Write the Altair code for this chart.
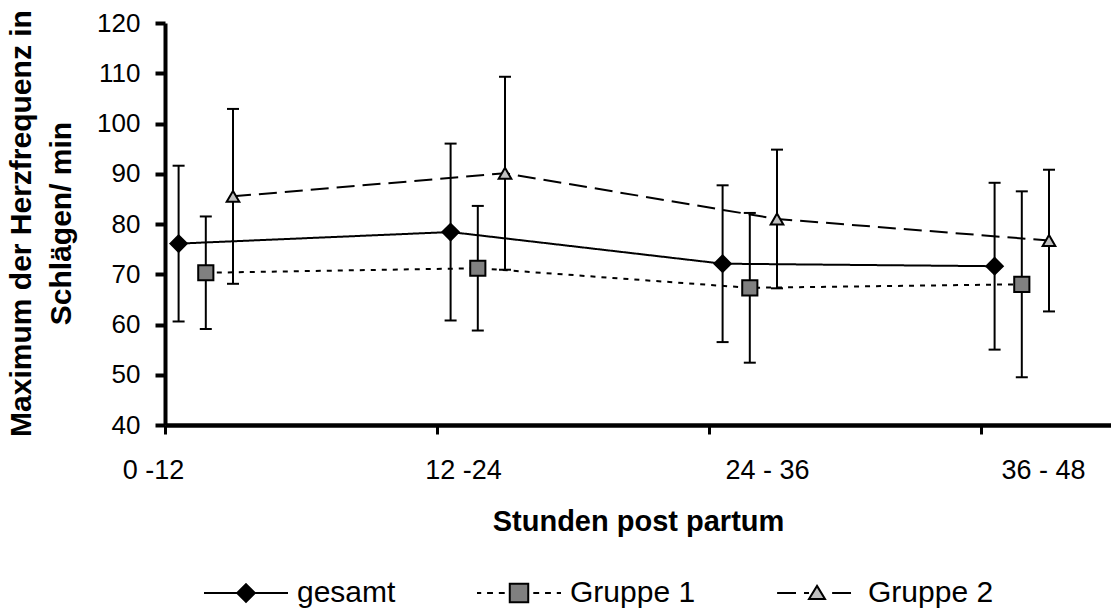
import json
import altair as alt
import pandas as pd

# ---------------- data ----------------
categories = ["0 -12", "12 -24", "24 - 36", "36 - 48"]
category_pos = [0, 1, 2, 3]
series = ["gesamt", "Gruppe 1", "Gruppe 2"]
mean_gesamt = [76.1, 78.4, 72.1, 71.6]
sd_gesamt = [15.5, 17.6, 15.6, 16.6]
mean_g1 = [70.3, 71.2, 67.3, 68.0]
sd_g1 = [11.2, 12.4, 14.9, 18.5]
mean_g2 = [85.5, 90.1, 81.0, 76.7]
sd_g2 = [17.4, 19.2, 13.8, 14.1]
series_offset = [0.05, 0.15, 0.25]
y_ticks = [40, 50, 60, 70, 80, 90, 100, 110, 120]

# ---------------- styles ----------------
FONT = "Liberation Sans"
fills = ["#000000", "#808080", "#c0c0c0"]
strokes = ["#000000", "#000000", "#000000"]
dashes = [[1, 0], [5, 6], [18, 8]]
marker_shapes = ["diamond", "square", "triangle-up"]
marker_sizes = [270, 230, 160]
label_offsets_px = [-12, 26, 58, 62]
legend_paths = [
    "M-1,0H1M0,-0.21L0.21,0L0,0.21L-0.21,0Z",
    "M-1,0H-0.9M-0.76,0H-0.62M-0.48,0H-0.34M-0.22,-0.22H0.22V0.22H-0.22Z"
    "M0.34,0H0.48M0.62,0H0.76M0.9,0H1",
    "M-0.95,0H-0.5M-0.31,0H-0.19M0,-0.17L0.19,0.14H-0.19ZM0.36,0H0.81",
]

W, H = 946, 402
X_MAX = W / 272.0

means = [mean_gesamt, mean_g1, mean_g2]
sds = [sd_gesamt, sd_g1, sd_g2]
rows = []
for si, s in enumerate(series):
    for ci, c in enumerate(categories):
        m = means[si][ci]
        d = sds[si][ci]
        rows.append({
            "series": s,
            "category": c,
            "x": category_pos[ci] + series_offset[si],
            "mean": m,
            "lo": m - d,
            "hi": m + d,
        })
df = pd.DataFrame(rows)

label_expr = json.dumps(categories) + "[datum.value]"
label_offset = {
    "condition": [
        {"test": f"datum.value === {v}", "value": off}
        for v, off in zip(category_pos, label_offsets_px)
    ],
    "value": 0,
}

x_axis = alt.Axis(
    values=category_pos,
    labelExpr=label_expr,
    labelOffset=label_offset,
    labelFont=FONT, labelFontSize=27, labelColor="black",
    labelBaseline="alphabetic", labelPadding=44,
    labelFlush=False, labelOverlap=False, labelBound=False,
    tickSize=9, tickWidth=3, tickColor="black",
    domainColor="black", domainWidth=4.5,
    grid=False,
    title="Stunden post partum",
    titleFont=FONT, titleFontSize=29, titleFontWeight="bold", titleColor="black",
    titleBaseline="alphabetic", titleAlign="center", titleX=W / 2, titleY=105,
)
y_axis = alt.Axis(
    values=y_ticks,
    labelFont=FONT, labelFontSize=26, labelColor="black", labelPadding=15,
    tickSize=10, tickWidth=4, tickColor="black",
    domainColor="black", domainWidth=4,
    grid=False,
    title=["Maximum der Herzfrequenz in", "Schlägen/ min"],
    titleFont=FONT, titleFontSize=30, titleFontWeight="bold", titleColor="black",
    titleAngle=270, titleAlign="center", titleBaseline="top",
    titleX=-159, titleY=200, titleLineHeight=40,
)

xs = alt.Scale(domain=[0, X_MAX], nice=False, zero=False)
ys = alt.Scale(domain=[40, 120], nice=False, zero=False)


def X():
    return alt.X("x:Q", scale=xs, axis=x_axis)


def Y(field):
    return alt.Y(f"{field}:Q", scale=ys, axis=y_axis)


base = alt.Chart(df)

layers = []
# connecting lines, one per series
for si, s in enumerate(series):
    layers.append(
        base.transform_filter(alt.datum.series == s)
        .mark_line(color="black", strokeWidth=2, strokeDash=dashes[si])
        .encode(x=X(), y=Y("mean"))
    )
# error bars
layers.append(base.mark_rule(color="black", strokeWidth=2).encode(x=X(), y=Y("lo"), y2="hi:Q"))
layers.append(
    base.mark_tick(orient="horizontal", size=12, thickness=2, color="black", opacity=1)
    .encode(x=X(), y=Y("lo"))
)
layers.append(
    base.mark_tick(orient="horizontal", size=12, thickness=2, color="black", opacity=1)
    .encode(x=X(), y=Y("hi"))
)
# markers, one per series
for si, s in enumerate(series):
    layers.append(
        base.transform_filter(alt.datum.series == s)
        .mark_point(filled=True, opacity=1, stroke="black", strokeWidth=2,
                    shape=marker_shapes[si], fill=fills[si], size=marker_sizes[si])
        .encode(x=X(), y=Y("mean"))
    )

# invisible layer that only carries the legend
leg = alt.Legend(
    title=None, orient="none", legendX=38, legendY=527, direction="horizontal",
    symbolSize=7056, symbolStrokeWidth=2, symbolStrokeColor="black", symbolOpacity=1,
    labelFont=FONT, labelFontSize=30, labelColor="black", labelOffset=8,
    columnPadding=77, padding=0, labelLimit=400,
)
layers.append(
    base.mark_point(filled=True, opacity=0, strokeWidth=2)
    .encode(
        x=X(), y=Y("mean"),
        shape=alt.Shape("series:N", scale=alt.Scale(domain=series, range=legend_paths), legend=leg),
        fill=alt.Fill("series:N", scale=alt.Scale(domain=series, range=fills), legend=leg),
        stroke=alt.Stroke("series:N", scale=alt.Scale(domain=series, range=strokes), legend=leg),
    )
)

chart = (
    alt.layer(*layers)
    .properties(
        width=W, height=H,
        autosize=alt.AutoSizeParams(type="none"),
        padding={"left": 165, "top": 23, "right": 0, "bottom": 187},
        background="white",
    )
    .configure_view(stroke=None)
)

chart.save("out.html", embed_options={"renderer": "svg", "actions": False})
